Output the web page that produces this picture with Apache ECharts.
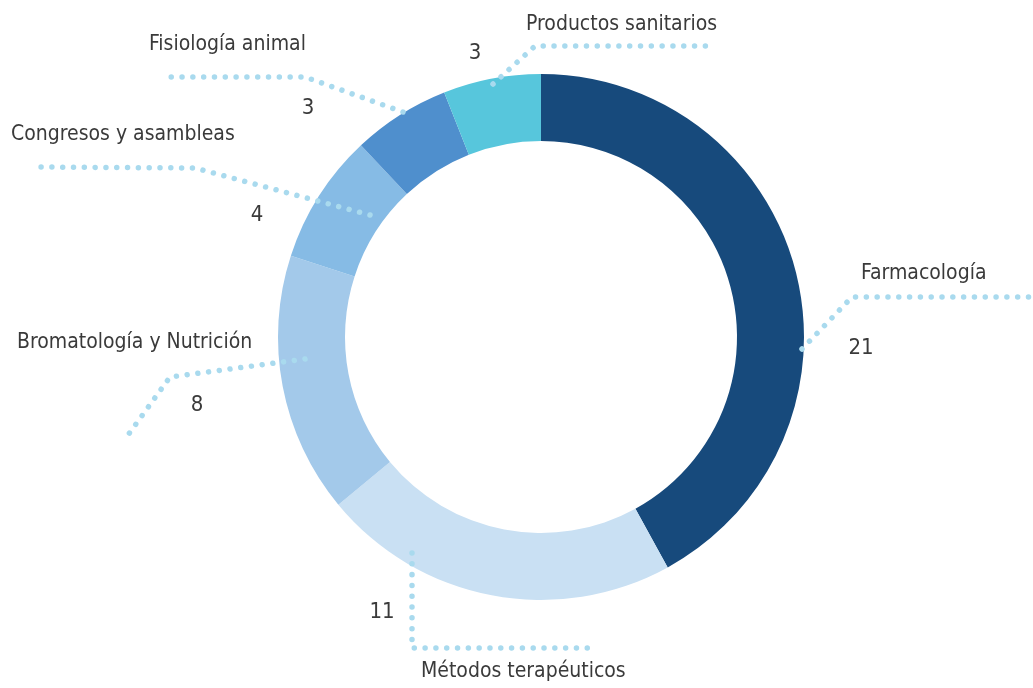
<!DOCTYPE html>
<html><head><meta charset="utf-8">
<script src="https://cdn.jsdelivr.net/npm/echarts@6/dist/echarts.min.js"></script>
<style>html,body{margin:0;padding:0;background:#fff}#c{width:1033px;height:688px}</style>
</head><body><div id="c"></div>
<script>
// ---- data ----
const categories = ['Farmacología', 'Métodos terapéuticos', 'Bromatología y Nutrición', 'Congresos y asambleas', 'Fisiología animal', 'Productos sanitarios'];
const counts = [21, 11, 8, 4, 3, 3];

// ---- styles / layout ----
const sliceColors = ['#174a7c', '#c9e0f3', '#a3c9ea', '#86bbe5', '#4f8fcd', '#57c6dc'];
const nameAnchors = [[861, 274], [421, 672], [17, 343], [11, 135], [149, 45], [526, 25]];
const valueAnchors = [[861, 348], [382, 612], [197, 405], [257, 215], [308, 108], [475, 53]];
const leaderPoints = [
  [[802, 349], [852, 297], [1033, 297]],
  [[412, 553], [412, 648], [598, 648]],
  [[305, 359], [170, 377], [128, 435]],
  [[370, 215], [195, 168], [35, 167]],
  [[403, 112], [305, 77], [169, 77]],
  [[493, 84], [535, 46], [708, 46]]
];
const FONT = "'Liberation Sans Narrow', 'Arial Narrow', 'DejaVu Sans Condensed', sans-serif";
const TEXT_COLOR = '#3a3a3a';
const FONT_SIZE = 21;

const chart = echarts.init(document.getElementById('c'), null, { renderer: 'canvas' });
chart.setOption({
  animation: false,
  backgroundColor: '#ffffff',
  series: [
    {
      // visible donut + value labels
      type: 'pie',
      z: 2,
      center: [541, 337],
      radius: [196, 263],
      startAngle: 90,
      clockwise: true,
      avoidLabelOverlap: false,
      minShowLabelAngle: 0,
      data: categories.map((n, i) => ({ name: n, value: counts[i], itemStyle: { color: sliceColors[i] } })),
      itemStyle: { borderWidth: 0 },
      label: {
        show: true,
        position: 'outside',
        formatter: '{c}',
        fontFamily: FONT,
        fontSize: FONT_SIZE + 1,
        color: TEXT_COLOR
      },
      labelLine: { show: false },
      labelLayout: function (p) {
        const i = p.dataIndex;
        return { x: valueAnchors[i][0], y: valueAnchors[i][1], align: 'center', verticalAlign: 'middle' };
      },
      emphasis: { disabled: true }
    },
    {
      // transparent overlay carrying names and dotted leader lines
      type: 'pie',
      z: 5,
      center: [541, 337],
      radius: [196, 263],
      startAngle: 90,
      clockwise: true,
      silent: true,
      avoidLabelOverlap: false,
      minShowLabelAngle: 0,
      data: categories.map((n, i) => ({ name: n, value: counts[i] })),
      itemStyle: { color: 'rgba(0,0,0,0)', borderWidth: 0 },
      label: {
        show: true,
        position: 'outside',
        formatter: '{b}',
        fontFamily: FONT,
        fontSize: FONT_SIZE,
        color: TEXT_COLOR
      },
      labelLine: {
        show: true,
        showAbove: true,
        smooth: false,
        lineStyle: { color: '#a9daee', width: 5.5, type: [0.01, 10.8], cap: 'round' }
      },
      labelLayout: function (p) {
        const i = p.dataIndex;
        return {
          x: nameAnchors[i][0],
          y: nameAnchors[i][1],
          align: 'left',
          verticalAlign: 'middle',
          labelLinePoints: leaderPoints[i]
        };
      },
      emphasis: { disabled: true }
    }
  ]
});
</script>
</body></html>
